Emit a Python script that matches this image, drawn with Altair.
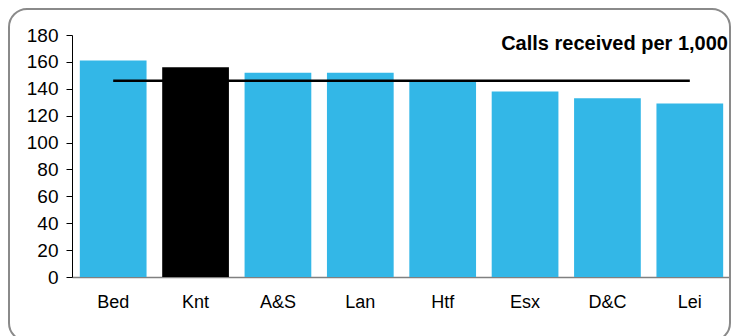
import altair as alt
import pandas as pd

categories = ["Bed", "Knt", "A&S", "Lan", "Htf", "Esx", "D&C", "Lei"]
values = [161, 156, 152, 152, 146, 138, 133, 129]
average = 146
highlight = "Knt"
title_text = "Calls received per 1,000"
y_ticks = [0, 20, 40, 60, 80, 100, 120, 140, 160, 180]

df = pd.DataFrame({"cat": categories, "val": values, "avg": [average] * len(categories)})

FONT = "Liberation Sans"

x_scale = alt.Scale(paddingInner=0.19, paddingOuter=0.095)
x_axis = alt.Axis(labelAngle=0, ticks=False, labelPadding=16, labelFontSize=18,
                  labelFont=FONT, labelColor="#000000", domainColor="#808080",
                  domainWidth=1.5)
y_scale = alt.Scale(domain=[0, 180], nice=False)
y_axis = alt.Axis(values=y_ticks, tickCount=10, grid=False, tickSize=6, tickColor="#000000",
                  domainColor="#000000", labelPadding=8, labelFontSize=19,
                  labelOverlap=False, labelFont=FONT, labelColor="#000000")

bars = alt.Chart(df).mark_bar().encode(
    x=alt.X("cat:N", sort=categories, title=None, scale=x_scale, axis=x_axis),
    y=alt.Y("val:Q", title=None, scale=y_scale, axis=y_axis),
    color=alt.condition(alt.datum.cat == highlight, alt.value("#000000"), alt.value("#33B7E7")),
)

avg_line = alt.Chart(df).mark_line(color="#000000", strokeWidth=2.5).encode(
    x=alt.X("cat:N", sort=categories, title=None, scale=x_scale, axis=x_axis),
    y=alt.Y("avg:Q", title=None, scale=y_scale, axis=y_axis),
)

title = alt.Chart(pd.DataFrame({"t": [title_text]})).mark_text(
    align="right", baseline="alphabetic", fontSize=20, fontWeight="bold", font=FONT, color="#000000"
).encode(text="t:N", x=alt.value(656), y=alt.value(15))

border = alt.Chart(pd.DataFrame({"b": [0]})).mark_rect(
    fill=None, stroke="#8a8a8a", strokeWidth=2, cornerRadius=18
).encode(x=alt.value(-63), x2=alt.value(658), y=alt.value(-26), y2=alt.value(306))

chart = alt.layer(border, bars, avg_line, title).properties(
    width=659, height=242,
    background="white",
    autosize=alt.AutoSizeParams(type="none"),
    padding={"left": 64, "top": 27, "right": 0, "bottom": 59},
).configure_view(stroke=None)

chart.save("out.html", embed_options={"renderer": "svg", "actions": False})
